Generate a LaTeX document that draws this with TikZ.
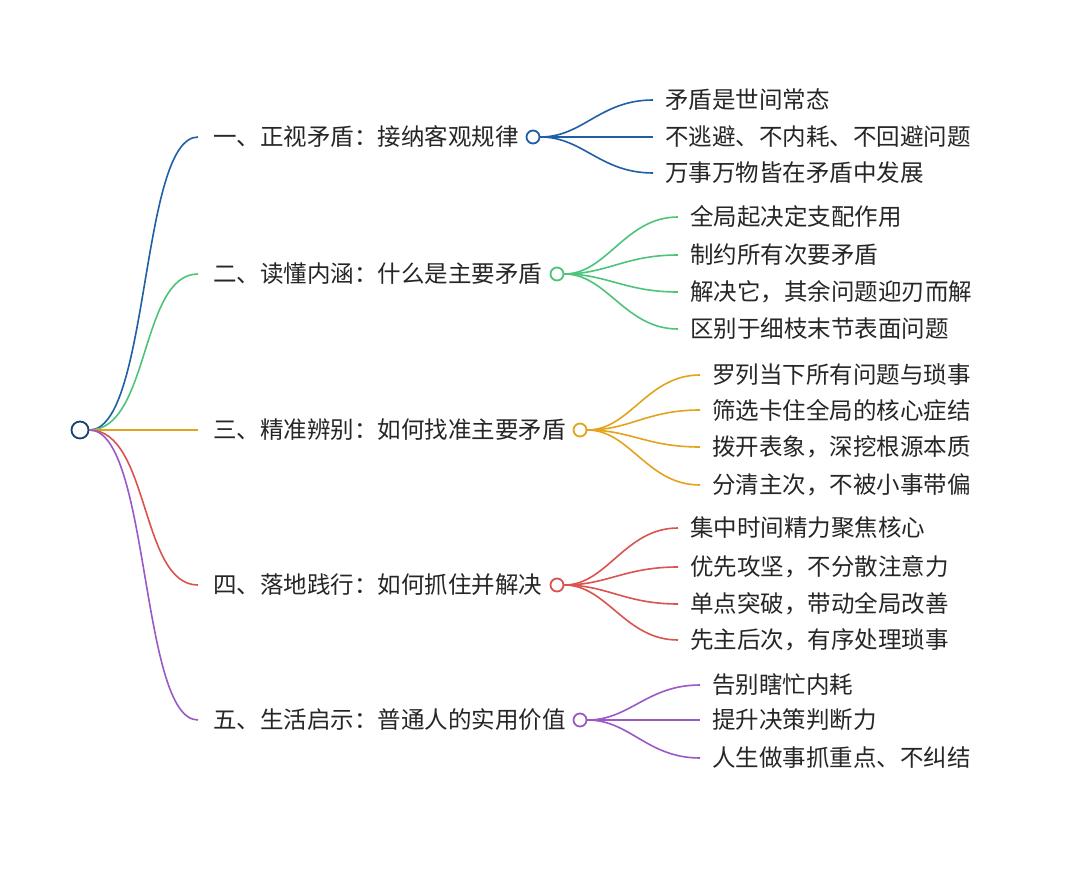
\documentclass[tikz,border=0pt]{standalone}
\usepackage{fontspec}
\newfontfamily\cjk{Noto Sans CJK SC}
\definecolor{cA}{HTML}{1E5FA6}
\definecolor{cB}{HTML}{4CC47A}
\definecolor{cC}{HTML}{E3A41C}
\definecolor{cD}{HTML}{D9534F}
\definecolor{cE}{HTML}{9B59C7}
\begin{document}
\begin{tikzpicture}[x=1pt,y=-1pt,
  txt/.style={anchor=west,inner sep=0pt,font=\cjk\fontsize{23.5}{23.5}\selectfont,text=black!85},
  dot/.style={circle,draw,line width=1.8pt,minimum size=13pt,inner sep=0pt,fill=white},
  ln/.style={line width=1.6pt}]
\useasboundingbox (0,0) rectangle (1080,872);
\fill[white] (0,0) rectangle (1080,872);
\node[dot,draw=cA!70!black,minimum size=17pt] (root) at (80,430) {};
\foreach \n/\c/\y/\cx/\lx/\t/\leaves in {
 1/cA/137/533/665/{一、正视矛盾：接纳客观规律}/{100/矛盾是世间常态,137/不逃避、不内耗、不回避问题,173/万事万物皆在矛盾中发展},
 2/cB/274/557/690/{二、读懂内涵：什么是主要矛盾}/{217/全局起决定支配作用,255/制约所有次要矛盾,292/解决它，其余问题迎刃而解,329/区别于细枝末节表面问题},
 3/cC/430/580/712/{三、精准辨别：如何找准主要矛盾}/{375/罗列当下所有问题与琐事,410/筛选卡住全局的核心症结,447/拨开表象，深挖根源本质,485/分清主次，不被小事带偏},
 4/cD/585/557/690/{四、落地践行：如何抓住并解决}/{528/集中时间精力聚焦核心,567/优先攻坚，不分散注意力,604/单点突破，带动全局改善,640/先主后次，有序处理琐事},
 5/cE/720/580/712/{五、生活启示：普通人的实用价值}/{685/告别瞎忙内耗,720/提升决策判断力,758/人生做事抓重点、不纠结}}{
  \coordinate (s\n) at (198,\y);
  \draw[ln,\c] (root.east) .. controls (150,430) and (140,\y) .. (s\n);
  \node[txt] (b\n) at (213,\y) {\t};
  \node[dot,draw=\c] (c\n) at (\cx,\y) {};
  \foreach \ly/\lt [count=\k] in \leaves {
    \node[txt] (l\n-\k) at (\lx,\ly) {\lt};
    \draw[ln,\c] (c\n.east) .. controls (\cx+50,\y) and (\lx-65,\ly) .. ([xshift=-12pt]l\n-\k.west);
  }
}
\end{tikzpicture}
\end{document}
